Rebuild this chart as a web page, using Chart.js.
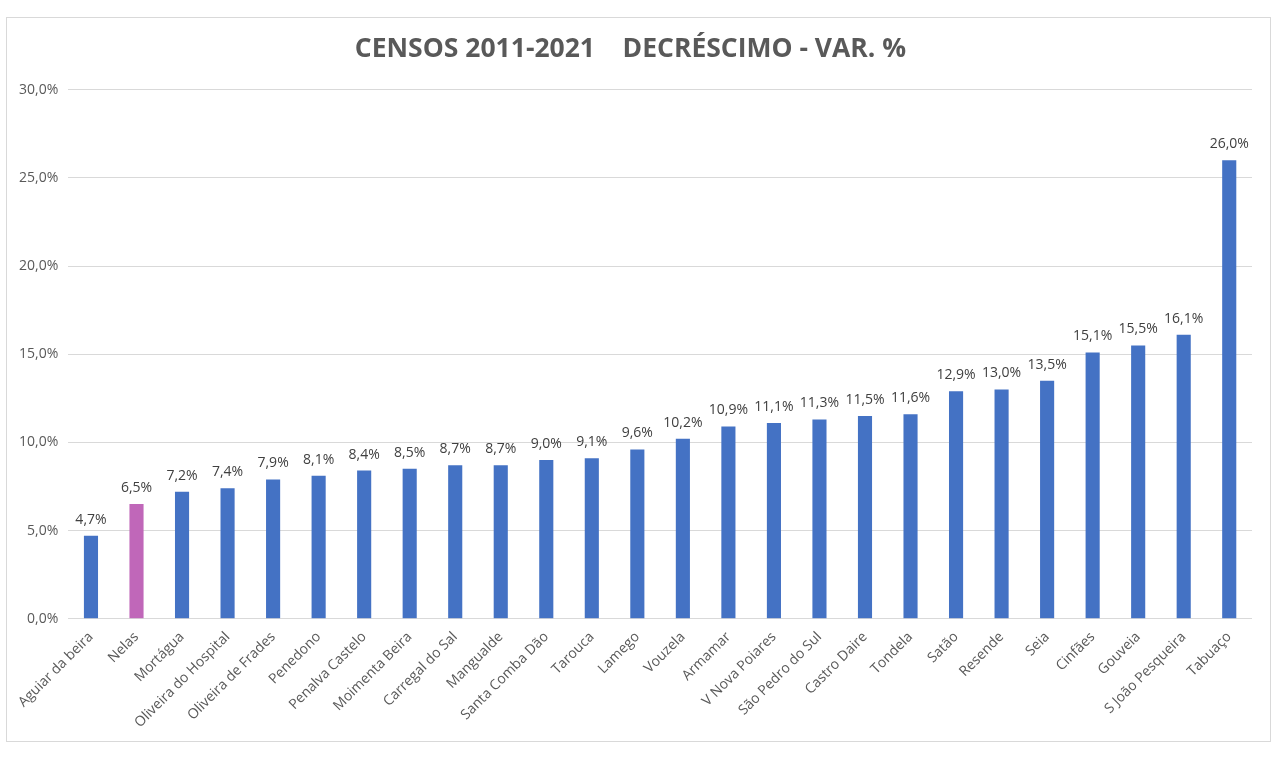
<!DOCTYPE html>
<html lang="pt">
<head>
  <meta charset="UTF-8" />
  <title>Censos 2011-2021</title>
  <script src="https://cdn.jsdelivr.net/npm/chart.js"></script>
  <style>
    body { margin: 0; background: #fff; font-family: 'Open Sans', sans-serif; }
    .moldura { position: absolute; left: 6px; top: 17px; width: 1263px; height: 723px; border: 1px solid #d9d9d9; }
    canvas { display: block; }
  </style>
</head>
<body>
  <div class="moldura">
    <canvas id="grafico" width="1263" height="723"></canvas>
  </div>
  <script>
    const concelhos = ['Aguiar da beira', 'Nelas', 'Mortágua', 'Oliveira do Hospital', 'Oliveira de Frades',
      'Penedono', 'Penalva Castelo', 'Moimenta Beira', 'Carregal do Sal', 'Mangualde', 'Santa Comba Dão',
      'Tarouca', 'Lamego', 'Vouzela', 'Armamar', 'V Nova Poiares', 'São Pedro do Sul', 'Castro Daire',
      'Tondela', 'Satão', 'Resende', 'Seia', 'Cinfães', 'Gouveia', 'S João Pesqueira', 'Tabuaço'];
    const variacao = [4.7, 6.5, 7.2, 7.4, 7.9, 8.1, 8.4, 8.5, 8.7, 8.7, 9.0, 9.1, 9.6, 10.2, 10.9, 11.1,
      11.3, 11.5, 11.6, 12.9, 13.0, 13.5, 15.1, 15.5, 16.1, 26.0];
    const destaque = 'Nelas';

    const fmt = v => v.toFixed(1).replace('.', ',') + '%';

    // etiquetas por cima das barras
    const etiquetas = {
      id: 'etiquetas',
      afterDatasetsDraw(chart) {
        const ctx = chart.ctx;
        ctx.save();
        ctx.font = '14px "Open Sans", sans-serif';
        ctx.fillStyle = '#404040';
        ctx.textAlign = 'center';
        ctx.textBaseline = 'bottom';
        chart.getDatasetMeta(0).data.forEach((bar, i) => {
          ctx.fillText(fmt(variacao[i]), bar.x, bar.y - 9);
        });
        ctx.restore();
      }
    };

    new Chart(document.getElementById('grafico').getContext('2d'), {
      type: 'bar',
      data: {
        labels: concelhos,
        datasets: [{
          data: variacao,
          backgroundColor: concelhos.map(c => c === destaque ? '#C067B9' : '#4472C4'),
          barPercentage: 0.31,
          categoryPercentage: 1
        }]
      },
      options: {
        responsive: false,
        animation: false,
        layout: { padding: { left: 2, right: 18, top: 10, bottom: 8 } },
        plugins: {
          legend: { display: false },
          tooltip: { enabled: false },
          title: {
            display: true,
            text: 'CENSOS 2011-2021    DECRÉSCIMO - VAR. %',
            color: '#595959',
            font: { family: '"Open Sans", sans-serif', size: 26.5, weight: 'bold' },
            padding: { top: 6, bottom: 24 }
          }
        },
        scales: {
          x: {
            grid: { display: false },
            border: { display: false },
            ticks: {
              color: '#595959',
              font: { family: '"Open Sans", sans-serif', size: 14 },
              maxRotation: 45,
              minRotation: 45,
              autoSkip: false,
              padding: 2
            }
          },
          y: {
            min: 0,
            max: 30,
            grid: { color: '#d9d9d9', drawTicks: false },
            border: { display: false },
            ticks: {
              stepSize: 5,
              color: '#595959',
              font: { family: '"Open Sans", sans-serif', size: 14 },
              padding: 10,
              callback: v => fmt(v)
            }
          }
        }
      },
      plugins: [etiquetas]
    });
  </script>
</body>
</html>
